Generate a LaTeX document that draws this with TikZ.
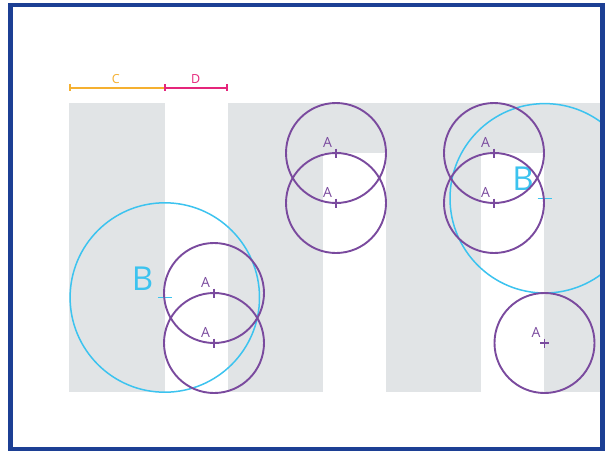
\documentclass[tikz,border=0pt]{standalone}
\usepackage{fontspec}
\setsansfont{Open Sans}
\usetikzlibrary{positioning}

\definecolor{framecol}{HTML}{1C3F94}
\definecolor{glyphgray}{HTML}{E1E4E6}
\definecolor{acol}{HTML}{7A4A9E}
\definecolor{bcol}{HTML}{3CC3EF}
\definecolor{ccol}{HTML}{F5B030}
\definecolor{dcol}{HTML}{E5257B}

\tikzset{
  acirc/.style={draw=acol, line width=1.9pt},
  bcirc/.style={draw=bcol, line width=1.5pt},
  dimline/.style={line width=2pt},
  alabel/.style={text=acol, inner sep=0pt, font=\sffamily\fontsize{14}{14}\selectfont},
  blabel/.style={text=bcol, inner sep=0pt, font=\sffamily\fontsize{33}{33}\selectfont},
  dimlabel/.style={inner sep=0pt, font=\sffamily\fontsize{12.5}{12.5}\selectfont},
}

\begin{document}
\begin{tikzpicture}[x=1pt, y=-1pt]
    \useasboundingbox (0,0) rectangle (609,450);
    \fill[white] (0,0) rectangle (609,450);

    % circle centres
    \coordinate (a1) at (214,293);
    \coordinate (a2) at (214,343);
    \coordinate (a3) at (336,153);
    \coordinate (a4) at (336,203);
    \coordinate (a5) at (494,153);
    \coordinate (a6) at (494,203);
    \coordinate (a7) at (544.5,343);
    \coordinate (b1) at (164.8,297.5);
    \coordinate (b2) at (544.7,198.3);

    \begin{scope}
        \clip (12.5,7.3) rectangle (600.2,446.7);

        % the letters l and m
        \fill[glyphgray] (69,103) rectangle (165,392);
        \fill[glyphgray] (228,103) rectangle (610,153);
        \foreach \x in {228,386,544} {\fill[glyphgray] (\x,150) rectangle (\x+95,392);}
        \fill[glyphgray] (600,150) rectangle (610,392);

        % B circles
        \foreach \c in {b1,b2} {
            \draw[bcirc] (\c) circle[radius=94.7];
            \draw[bcol, line width=1.5pt] (\c) ++(-7,0) -- ++(14,0);
        }
        \node[blabel] (lb1) at (142.5,278.5) {B};
        \node[blabel] (lb2) at (523,179) {B};

        % A circles
        \foreach \c in {a1,a2,a3,a4,a5,a6,a7} {
            \draw[acirc] (\c) circle[radius=50];
            \draw[acol, line width=1.6pt] (\c) ++(-4.5,0) -- ++(9,0) (\c) ++(0,-4.5) -- ++(0,9);
        }
        \node[alabel] (la1) at (205.5,282.5) {A};
        \node[alabel] (la2) at (205.5,332.5) {A};
        \node[alabel] (la3) at (327.5,142.5) {A};
        \node[alabel] (la4) at (327.5,192.5) {A};
        \node[alabel] (la5) at (485.5,142.5) {A};
        \node[alabel] (la6) at (485.5,192.5) {A};
        \node[alabel] (la7) at (536,332.5) {A};
    \end{scope}

    % C and D widths
    \coordinate (c0) at (70,87.5);
    \coordinate (c1) at (164.5,87.5);
    \coordinate (d1) at (227,87.5);
    \draw[ccol, dimline] (c0) -- (c1) (c0) ++(0,-3.5) -- ++(0,7);
    \draw[dcol, dimline] (c1) -- (d1);
    \foreach \p in {c1,d1} {\draw[dcol, dimline] (\p) ++(0,-3.5) -- ++(0,7);}
    \node[dimlabel, text=ccol] (lc) at (115.7,79) {C};
    \node[dimlabel, text=dcol] (ld) at (195.7,79) {D};

    % frame
    \draw[framecol, line width=4.6pt] (10.4,5) rectangle (602.6,449);
\end{tikzpicture}
\end{document}
